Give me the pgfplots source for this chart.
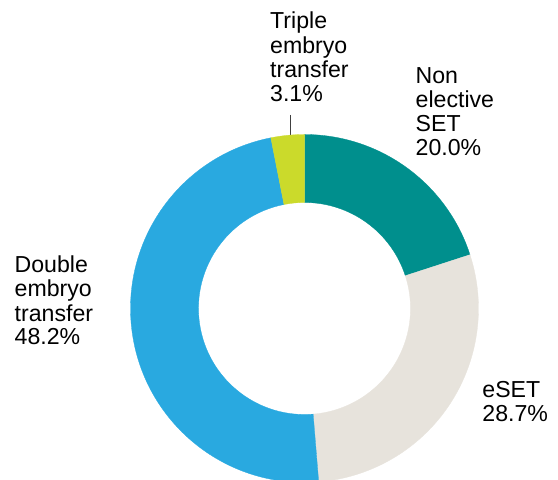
\documentclass[border=0pt]{standalone}
\usepackage{pgfplots}
\pgfplotsset{compat=1.18}
\usepackage{pgfplotstable}
\usepackage{fontspec}
\setmainfont{Liberation Sans}
\definecolor{pie0}{HTML}{008F8D}
\definecolor{pie1}{HTML}{E7E3DC}
\definecolor{pie2}{HTML}{29A9E0}
\definecolor{pie3}{HTML}{CBDA2B}
\pgfplotstableread[col sep=comma]{
label,value
Non elective SET,20.0
eSET,28.7
Double embryo transfer,48.2
Triple embryo transfer,3.1
}\pietable
\newcommand\cx{304.5}
\newcommand\cy{171.5}
\newcommand\Ro{174}
\newcommand\Ri{106}
\newcommand\fs{\fontsize{23.2}{24.3}\selectfont}
\begin{document}
\begin{tikzpicture}
\gdef\cum{0}
\pgfplotsforeachungrouped \i in {0,...,3}{%
  \pgfplotstablegetelem{\i}{value}\of\pietable
  \let\v\pgfplotsretval
  \pgfmathsetmacro\s{90-3.6*\cum}%
  \pgfmathsetmacro\e{90-3.6*(\cum+\v)}%
  \pgfmathsetmacro\newcum{\cum+\v}%
  \xdef\cum{\newcum}%
  \expandafter\xdef\csname pieS\i\endcsname{\s}%
  \expandafter\xdef\csname pieE\i\endcsname{\e}%
}
\begin{axis}[
  scale only axis, width=558bp, height=480bp,
  xmin=0, xmax=558, ymin=0, ymax=480,
  hide axis, clip=true,
]
\draw[black!75, line width=0.9bp] (axis cs:290,365) -- (axis cs:290,341);
\pgfplotsinvokeforeach{0,...,3}{
  \filldraw[fill=pie#1, draw=pie#1, line width=0.3bp]
    ([shift={(\csname pieS#1\endcsname:\Ro bp)}]axis cs:\cx,\cy)
    arc[start angle=\csname pieS#1\endcsname, end angle=\csname pieE#1\endcsname, radius=\Ro bp]
    -- ([shift={(\csname pieE#1\endcsname:\Ri bp)}]axis cs:\cx,\cy)
    arc[start angle=\csname pieE#1\endcsname, end angle=\csname pieS#1\endcsname, radius=\Ri bp]
    -- cycle;
}
% labels
\begin{scope}[every node/.style={anchor=base west, inner sep=0pt, font=\fs, text=black}]
\node at (axis cs:270,451) {Triple};
\node at (axis cs:270,426.5) {embryo};
\node at (axis cs:270,402) {transfer};
\node at (axis cs:270,378) {3.1\%};
\node at (axis cs:415.5,396.7) {Non};
\node at (axis cs:415.5,372.5) {elective};
\node at (axis cs:415.5,348.5) {SET};
\node at (axis cs:415.5,324.5) {20.0\%};
\node at (axis cs:14.5,207.3) {Double};
\node at (axis cs:14.5,183) {embryo};
\node at (axis cs:14.5,158.5) {transfer};
\node at (axis cs:14.5,135.5) {48.2\%};
\node at (axis cs:482.2,82.3) {eSET};
\node at (axis cs:482.2,58.3) {28.7\%};
\end{scope}
\end{axis}
\pgfresetboundingbox
\path[use as bounding box] (current axis.south west) rectangle (current axis.north east);
\end{tikzpicture}
\end{document}
